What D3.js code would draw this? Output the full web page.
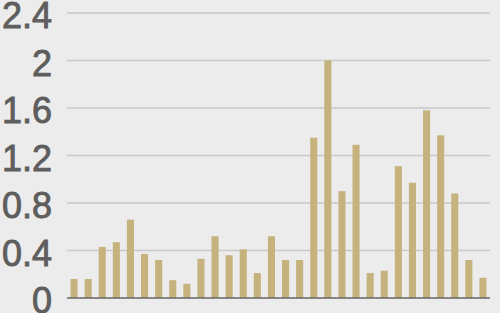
<!DOCTYPE html>
<html>
<head>
<meta charset="utf-8">
<script src="https://cdn.jsdelivr.net/npm/d3@7"></script>
<style>
  html, body { margin: 0; padding: 0; background: #ececec; }
  svg { display: block; }
</style>
</head>
<body>
<svg id="chart" width="500" height="313"></svg>
<script>
// bar values, left to right
const categories = d3.range(1, 31).map(String);
const values = [0.16, 0.16, 0.43, 0.47, 0.66, 0.37, 0.32, 0.15, 0.12, 0.33,
                0.52, 0.36, 0.41, 0.21, 0.52, 0.32, 0.32, 1.35, 2.0, 0.9,
                1.29, 0.21, 0.23, 1.11, 0.97, 1.58, 1.37, 0.88, 0.32, 0.17];
const yTicks = [0, 0.4, 0.8, 1.2, 1.6, 2, 2.4];

const svg = d3.select("#chart");
const margin = { top: 13, right: 10, bottom: 15, left: 67 },
    width = 500 - margin.left - margin.right,
    height = 313 - margin.top - margin.bottom;

svg.append("rect").attr("width", 500).attr("height", 313).attr("fill", "#ececec");

const chart = svg.append("g")
    .attr("transform", `translate(${margin.left},${margin.top})`);

const x = d3.scaleBand()
    .domain(categories)
    .range([0, width])
    .paddingInner(0.5)
    .paddingOuter(0.25);

const y = d3.scaleLinear()
    .domain([0, 2.4])
    .range([height, 0]);

// gridlines
chart.append("g")
    .selectAll("line")
    .data(yTicks.filter(d => d > 0))
    .enter()
    .append("line")
    .attr("x1", 0)
    .attr("x2", width)
    .attr("y1", d => y(d))
    .attr("y2", d => y(d))
    .attr("stroke", "#c9c9c9")
    .attr("stroke-width", 1.3);

// y axis labels (slightly heavier than regular weight)
const yAxis = d3.axisLeft(y)
    .tickValues(yTicks)
    .tickFormat(d => d3.format("~g")(d))
    .tickSize(0)
    .tickPadding(15);

chart.append("g")
    .call(yAxis)
    .call(g => g.select(".domain").remove())
    .selectAll("text")
    .attr("dy", "0.37em")
    .attr("transform", "translate(0,1.5)")
    .style("font-size", "36px")
    .style("font-family", "'Liberation Sans', Arial, sans-serif")
    .style("fill", "#5e5e5e")
    .style("stroke", "#5e5e5e")
    .style("stroke-width", 0.9);

// bars
chart.selectAll("rect.bar")
    .data(values)
    .enter()
    .append("rect")
    .attr("class", "bar")
    .attr("x", (d, i) => x(categories[i]))
    .attr("y", d => y(d))
    .attr("width", x.bandwidth())
    .attr("height", d => height - y(d))
    .style("fill", "#c5b27d");

// baseline
chart.append("line")
    .attr("x1", 0)
    .attr("x2", width)
    .attr("y1", height)
    .attr("y2", height)
    .attr("stroke", "#666666")
    .attr("stroke-width", 1.6);
</script>
</body>
</html>
